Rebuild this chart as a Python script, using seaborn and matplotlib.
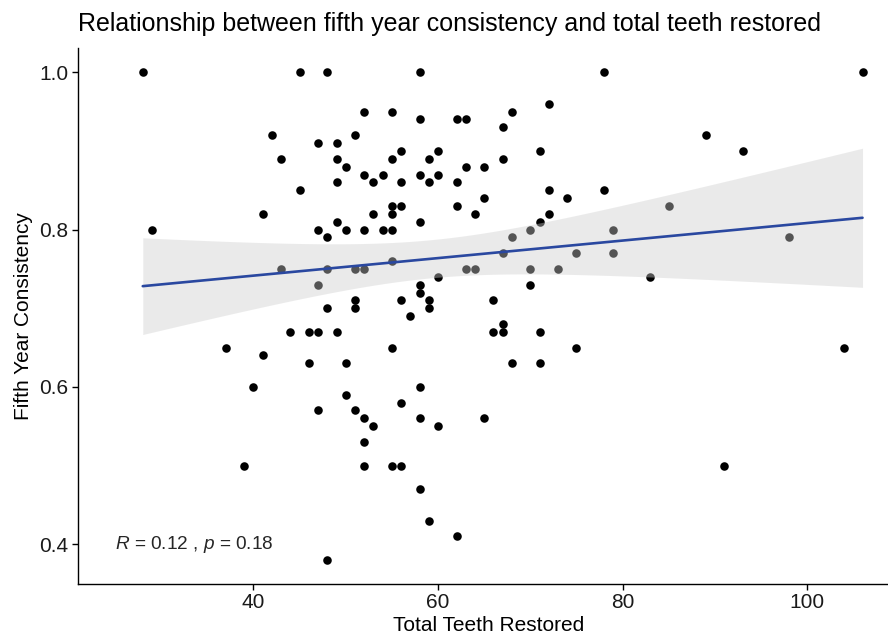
import numpy as np
import pandas as pd
import matplotlib
matplotlib.use('Agg')
import matplotlib.pyplot as plt
import seaborn as sns


# values (one entry per patient)
total_teeth = [28, 29, 45, 42, 43, 45, 41,
               48, 58, 52, 55, 58, 62, 63, 67, 68, 72, 51, 47, 49, 49, 50, 55, 56, 59, 60,
               63, 65, 67, 71, 52, 53, 54, 49, 56, 58, 59, 60, 62, 72, 74, 65, 55, 56, 62,
               53, 55, 64, 72, 49, 58, 71, 47, 50, 52, 54, 55, 48, 70, 68,
               78, 106, 89, 93, 78, 85, 79, 98,
               43, 44, 37, 41, 40,
               48, 51, 52, 55, 47, 60, 63, 64, 67, 70, 73, 75, 70, 58, 58, 51, 51, 48, 56,
               59, 59, 57, 66, 67, 66, 67, 71, 46, 47, 49, 55, 75, 46, 50, 68, 71, 58, 50,
               56, 47, 51, 52, 58, 65,
               79, 83, 104, 39, 53, 60, 52, 52, 55, 56, 58, 59, 62, 48, 91]
fifth_year = [1.00, 0.80, 1.00, 0.92, 0.89, 0.85, 0.82,
              1.00, 1.00, 0.95, 0.95, 0.94, 0.94, 0.94, 0.93, 0.95, 0.96, 0.92, 0.91, 0.91, 0.89, 0.88, 0.89, 0.90, 0.89, 0.90,
              0.88, 0.88, 0.89, 0.90, 0.87, 0.86, 0.87, 0.86, 0.86, 0.87, 0.86, 0.87, 0.86, 0.85, 0.84, 0.84, 0.83, 0.83, 0.83,
              0.82, 0.82, 0.82, 0.82, 0.81, 0.81, 0.81, 0.80, 0.80, 0.80, 0.80, 0.80, 0.79, 0.80, 0.79,
              1.00, 1.00, 0.92, 0.90, 0.85, 0.83, 0.80, 0.79,
              0.75, 0.67, 0.65, 0.64, 0.60,
              0.75, 0.75, 0.75, 0.76, 0.73, 0.74, 0.75, 0.75, 0.77, 0.75, 0.75, 0.77, 0.73, 0.73, 0.72, 0.71, 0.70, 0.70, 0.71,
              0.71, 0.70, 0.69, 0.71, 0.68, 0.67, 0.67, 0.67, 0.67, 0.67, 0.67, 0.65, 0.65, 0.63, 0.63, 0.63, 0.63, 0.60, 0.59,
              0.58, 0.57, 0.57, 0.56, 0.56, 0.56,
              0.77, 0.74, 0.65, 0.50, 0.55, 0.55, 0.53, 0.50, 0.50, 0.50, 0.47, 0.43, 0.41, 0.38, 0.50]

label_x, label_y = 25, 0.40
cor_text = r'$R$ = 0.12 , $p$ = 0.18'

df = pd.DataFrame({'Total Teeth Restored': total_teeth,
                   'Fifth Year Consistency': fifth_year})

sns.set_theme(style='ticks')
plt.rcParams['font.family'] = ['Liberation Sans', 'DejaVu Sans']
plt.rcParams['mathtext.fontset'] = 'custom'
plt.rcParams['mathtext.rm'] = 'Liberation Sans'
plt.rcParams['mathtext.it'] = 'Liberation Sans:italic'

fig = plt.figure(figsize=(8.88, 6.39), dpi=100)
ax = fig.add_axes([0.0875, 0.0856, 0.9259, 0.8394])

sns.scatterplot(data=df, x='Total Teeth Restored', y='Fifth Year Consistency',
                color='black', s=38, linewidth=0, ax=ax, zorder=2)

# linear fit + 95% confidence band (like geom_smooth(method='lm'))
x = df['Total Teeth Restored'].to_numpy(float)
y = df['Fifth Year Consistency'].to_numpy(float)
slope, intercept = np.polyfit(x, y, 1)
resid = y - (slope * x + intercept)
n = len(x)
s = np.sqrt(np.sum(resid ** 2) / (n - 2))
grid = np.linspace(x.min(), x.max(), 200)
se = s * np.sqrt(1 / n + (grid - x.mean()) ** 2 / np.sum((x - x.mean()) ** 2))
fit = slope * grid + intercept
ax.fill_between(grid, fit - 1.977 * se, fit + 1.977 * se, color='#CECECE',
                alpha=0.41, linewidth=0, zorder=3)

sns.regplot(data=df, x='Total Teeth Restored', y='Fifth Year Consistency',
            scatter=False, ci=None, truncate=True, ax=ax,
            line_kws=dict(color='#2A48A0', lw=1.9, zorder=4))

ax.text(label_x, label_y, cor_text, ha='left', va='center', fontsize=13.7)

# ggplot-style expansion of 5% around data + label
xlo, xhi = min(x.min(), label_x), x.max()
ylo, yhi = min(y.min(), label_y), y.max()
ax.set_xlim(xlo - 0.05 * (xhi - xlo), xhi + 0.05 * (xhi - xlo))
ax.set_ylim(ylo - 0.05 * (yhi - ylo), yhi + 0.05 * (yhi - ylo))

ax.set_xticks([40, 60, 80, 100])
ax.set_yticks([0.4, 0.6, 0.8, 1.0])
ax.set_yticklabels(['0.4', '0.6', '0.8', '1.0'])
ax.tick_params(labelsize=15, length=4, width=1, color='black', labelcolor='#1a1a1a', pad=2.5)

sns.despine(ax=ax)
for side in ['left', 'bottom']:
    ax.spines[side].set_linewidth(1.0)
    ax.spines[side].set_color('black')

ax.set_xlabel('Total Teeth Restored', fontsize=15, color='black', labelpad=3)
ax.set_ylabel('Fifth Year Consistency', fontsize=15, color='black', labelpad=5)
ax.set_title('Relationship between fifth year consistency and total teeth restored',
             loc='left', fontsize=18, color='black', pad=12)

plt.savefig('out.png', dpi=100)
